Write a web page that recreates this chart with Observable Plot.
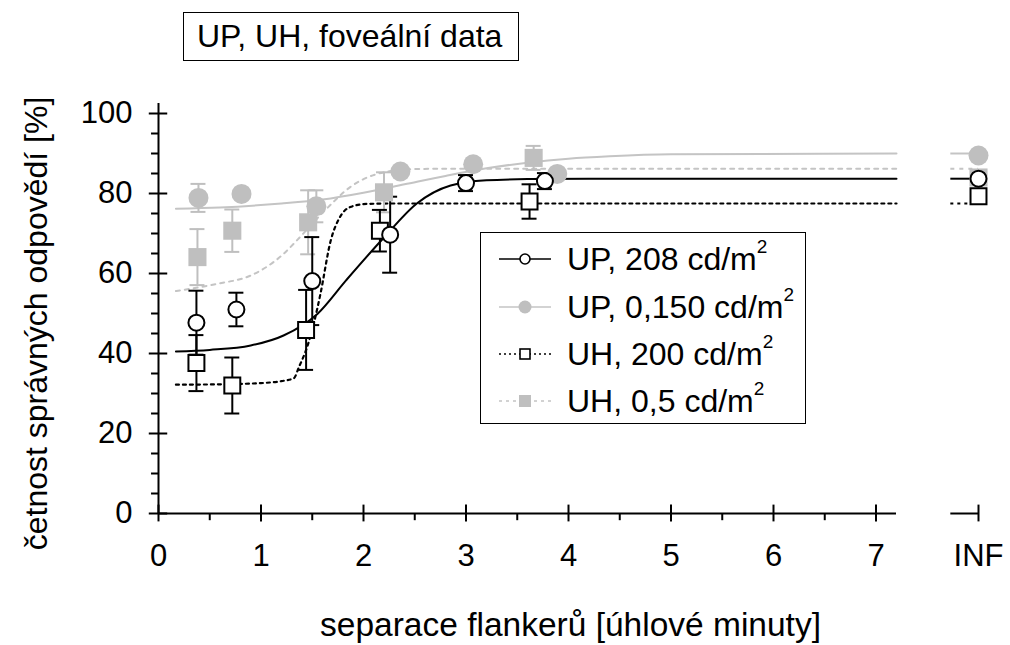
<!DOCTYPE html>
<html><head><meta charset="utf-8">
<script src="https://cdn.jsdelivr.net/npm/d3@7"></script>
<script src="https://cdn.jsdelivr.net/npm/@observablehq/plot@0.6"></script>
<style>
body{margin:0;background:#fff;}
#wrap{position:relative;width:1010px;height:645px;font-family:"Liberation Sans",Arial,sans-serif;color:#000;}
#title{position:absolute;left:183px;top:12px;width:336px;height:49px;border:1.5px solid #000;box-sizing:border-box;font-size:32px;line-height:46px;padding-left:13px;white-space:nowrap;background:#fff;}
#legend{position:absolute;left:480px;top:232px;width:326px;height:192px;border:1.5px solid #000;box-sizing:border-box;background:#fff;}
.row{position:absolute;left:0;height:40px;display:flex;align-items:center;font-size:32px;white-space:nowrap;}
.row svg{margin-left:16px;margin-right:14px;}
.sup{font-size:19px;position:relative;top:-12px;}
</style></head>
<body><div id="wrap"><div id="chart"></div><div id="title"></div><div id="legend"></div></div>
<script>
// ---------- data ----------
const titleText = "UP, UH, foveální data";
const xLabel = "separace flankerů [úhlové minuty]";
const yLabel = "četnost správných odpovědí [%]";
const xTicks = [0, 1, 2, 3, 4, 5, 6, 7];
const xMinorTicks = [0.5, 1.5, 2.5, 3.5, 4.5, 5.5, 6.5];
const yTicks = [0, 20, 40, 60, 80, 100];
const yMinorTicks = [5, 10, 15, 25, 30, 35, 45, 50, 55, 65, 70, 75, 85, 90, 95];
const infLabel = "INF";

const seriesNames = ["UP, 208 cd/m", "UP, 0,150 cd/m", "UH, 200 cd/m", "UH, 0,5 cd/m"];

// UP, 208 cd/m2 (open circles)
const up208X = [0.37, 0.76, 1.50, 2.26, 3.00, 3.77, "INF"];
const up208Y = [47.7, 51.0, 58.1, 69.7, 82.6, 83.1, 83.7];
const up208Err = [8.0, 4.2, 11.0, 9.5, 2.0, 2.0, 0];
const up208CurveX = [0.17, 0.5, 0.9, 1.22, 1.55, 1.83, 2.2, 2.52, 2.85, 3.2, 3.6, 4.2, 7.2];
const up208CurveY = [40.5, 40.9, 42.0, 44.5, 49.9, 58.3, 69.0, 77.5, 82.0, 83.3, 83.6, 83.7, 83.7];

// UP, 0,150 cd/m2 (grey filled circles)
const up015X = [0.39, 0.81, 1.54, 2.36, 3.07, 3.89, "INF"];
const up015Y = [78.9, 79.9, 76.8, 85.5, 87.3, 84.9, 89.5];
const up015Err = [3.5, 0, 4.0, 0, 0, 0, 0];
const up015CurveX = [0.17, 0.6, 1.2, 1.6, 2.0, 2.4, 2.8, 3.2, 3.6, 4.0, 4.4, 5.0, 7.2];
const up015CurveY = [76.2, 76.5, 77.5, 78.5, 80.2, 82.3, 84.4, 86.3, 87.7, 88.7, 89.3, 89.8, 90.0];

// UH, 200 cd/m2 (open squares)
const uh200X = [0.37, 0.72, 1.44, 2.16, 3.62, "INF"];
const uh200Y = [37.6, 32.0, 45.9, 70.7, 78.0, 79.3];
const uh200Err = [7.0, 7.0, 10.0, 5.2, 4.3, 0];
const uh200CurveX = [0.17, 0.6, 1.0, 1.2, 1.32, 1.37, 1.45, 1.52, 1.58, 1.68, 1.77, 1.87, 2.03, 2.3, 7.2];
const uh200CurveY = [32.2, 32.3, 32.6, 33.1, 33.8, 36.6, 41.6, 48.0, 54.9, 68.2, 74.1, 76.6, 77.4, 77.5, 77.5];

// UH, 0,5 cd/m2 (grey filled squares)
const uh05X = [0.38, 0.72, 1.46, 2.20, 3.66, "INF"];
const uh05Y = [64.1, 70.7, 72.8, 80.3, 88.9, 84.0];
const uh05Err = [7.0, 5.3, 8.0, 5.0, 3.0, 0];
const uh05CurveX = [0.17, 0.57, 0.9, 1.22, 1.38, 1.64, 1.87, 2.2, 2.5, 2.8, 7.2];
const uh05CurveY = [55.6, 57.4, 59.5, 64.9, 69.1, 76.2, 81.6, 85.3, 86.1, 86.2, 86.2];

// ---------- layout / style ----------
const INF_POS = 8, BREAK_L = 7.2, BREAK_R = 7.73, CAP = 0.073;
const BLACK = "#000", GREY = "#bfbfbf", GREYLINE = "#c4c4c4";
const pos = v => v === "INF" ? INF_POS : v;
const pts = (xs, ys, es) => xs.map((x, i) => ({x: pos(x), y: ys[i], e: es ? es[i] : 0}));
const crv = (xs, ys) => xs.map((x, i) => ({x, y: ys[i]}));

const S = [
  {name: seriesNames[1], data: pts(up015X, up015Y, up015Err), curve: crv(up015CurveX, up015CurveY), color: GREY, line: GREYLINE, dash: null, sym: "circle", fill: GREY, r: 10, lw: 2},
  {name: seriesNames[3], data: pts(uh05X, uh05Y, uh05Err), curve: crv(uh05CurveX, uh05CurveY), color: GREY, line: GREYLINE, dash: "4,5", sym: "square", fill: GREY, r: 10.2, lw: 2},
  {name: seriesNames[2], data: pts(uh200X, uh200Y, uh200Err), curve: crv(uh200CurveX, uh200CurveY), color: BLACK, line: BLACK, dash: "3,4", sym: "square", fill: "white", r: 9, lw: 2.2},
  {name: seriesNames[0], data: pts(up208X, up208Y, up208Err), curve: crv(up208CurveX, up208CurveY), color: BLACK, line: BLACK, dash: null, sym: "circle", fill: "white", r: 8, lw: 2}
];

const marks = [];
// curves
for (const s of S) {
  marks.push(Plot.line(s.curve, {x: "x", y: "y", curve: "monotone-x", stroke: s.line, strokeWidth: s.lw, strokeDasharray: s.dash}));
  const last = s.curve[s.curve.length - 1];
  marks.push(Plot.ruleY([last], {y: "y", x1: () => BREAK_R, x2: () => INF_POS, stroke: s.line, strokeWidth: s.lw, strokeDasharray: s.dash}));
}
// error bars
for (const s of S) {
  const eb = s.data.filter(d => d.e > 0);
  marks.push(Plot.ruleX(eb, {x: "x", y1: d => d.y - d.e, y2: d => d.y + d.e, stroke: s.color, strokeWidth: 2}));
  marks.push(Plot.ruleY(eb, {y: d => d.y + d.e, x1: d => d.x - CAP, x2: d => d.x + CAP, stroke: s.color, strokeWidth: 2}));
  marks.push(Plot.ruleY(eb, {y: d => d.y - d.e, x1: d => d.x - CAP, x2: d => d.x + CAP, stroke: s.color, strokeWidth: 2}));
}
// markers
for (const s of S) {
  marks.push(Plot.dot(s.data, {x: "x", y: "y", symbol: () => s.sym, r: s.r, fill: s.fill,
    stroke: s.fill === "white" ? BLACK : "none", strokeWidth: 2}));
}
// axes
const axW = 2;
marks.push(
  Plot.ruleY([0], {x1: () => 0, x2: () => BREAK_L, stroke: BLACK, strokeWidth: axW}),
  Plot.ruleY([0], {x1: () => BREAK_R, x2: () => INF_POS, stroke: BLACK, strokeWidth: axW}),
  Plot.ruleX([0], {y1: () => 0, y2: () => 102.5, stroke: BLACK, strokeWidth: axW}),
  Plot.ruleX([...xTicks, INF_POS], {x: d => d, y1: () => -2.1, y2: () => 2.1, stroke: BLACK, strokeWidth: axW}),
  Plot.ruleX(xMinorTicks, {x: d => d, y1: () => -1.8, y2: () => 0, stroke: BLACK, strokeWidth: axW}),
  Plot.ruleY(yTicks, {y: d => d, x1: () => -0.09, x2: () => 0.09, stroke: BLACK, strokeWidth: axW}),
  Plot.ruleY(yMinorTicks, {y: d => d, x1: () => -0.068, x2: () => 0, stroke: BLACK, strokeWidth: axW}),
  Plot.axisX([...xTicks, INF_POS], {tickSize: 0, tickPadding: 30, fontSize: 31, label: null, tickFormat: d => d === INF_POS ? infLabel : String(d)}),
  Plot.axisY(yTicks, {tickSize: 0, tickPadding: 26, fontSize: 31, label: null}),
  Plot.text([yLabel], {frameAnchor: "left", textAnchor: "middle", rotate: -90, dx: -122, dy: 10, fontSize: 32}),
  Plot.text([xLabel], {frameAnchor: "bottom", textAnchor: "middle", dx: 2, dy: 112, fontSize: 33.5, lineAnchor: "middle"})
);

const chart = Plot.plot({
  width: 1010, height: 645,
  marginLeft: 158, marginRight: 32, marginTop: 113, marginBottom: 132,
  x: {domain: [0, INF_POS], axis: null},
  y: {domain: [0, 100], axis: null},
  style: {fontFamily: '"Liberation Sans", Arial, sans-serif', color: "#000", background: "white", overflow: "visible"},
  marks
});
document.getElementById("chart").appendChild(chart);

// title
document.getElementById("title").textContent = titleText;

// legend (same series definitions, in reference order)
const legendOrder = [3, 0, 2, 1];
const tops = [6, 54, 101, 148];
const lg = document.getElementById("legend");
legendOrder.forEach((k, i) => {
  const s = S[k];
  const row = document.createElement("div");
  row.className = "row";
  row.style.top = tops[i] + "px";
  const ns = "http://www.w3.org/2000/svg";
  const svg = document.createElementNS(ns, "svg");
  svg.setAttribute("width", 56); svg.setAttribute("height", 20);
  const ln = document.createElementNS(ns, "line");
  ln.setAttribute("x1", 2); ln.setAttribute("x2", 54); ln.setAttribute("y1", 10); ln.setAttribute("y2", 10);
  ln.setAttribute("stroke", s.line); ln.setAttribute("stroke-width", s.lw - 0.5);
  if (s.dash) ln.setAttribute("stroke-dasharray", s.dash === "3,4" ? "2,3" : "3,4");
  svg.appendChild(ln);
  let m;
  if (s.sym === "circle") {
    m = document.createElementNS(ns, "circle");
    m.setAttribute("cx", 28); m.setAttribute("cy", 10); m.setAttribute("r", s.fill === "white" ? 5 : 6.5);
  } else {
    m = document.createElementNS(ns, "rect");
    const a = s.fill === "white" ? 10 : 12;
    m.setAttribute("x", 28 - a / 2); m.setAttribute("y", 10 - a / 2); m.setAttribute("width", a); m.setAttribute("height", a);
  }
  m.setAttribute("fill", s.fill);
  m.setAttribute("stroke", s.fill === "white" ? BLACK : "none");
  m.setAttribute("stroke-width", 1.6);
  svg.appendChild(m);
  row.appendChild(svg);
  const t = document.createElement("span");
  t.textContent = s.name;
  row.appendChild(t);
  const sup = document.createElement("span");
  sup.className = "sup"; sup.textContent = "2";
  row.appendChild(sup);
  lg.appendChild(row);
});
</script>
</body></html>
